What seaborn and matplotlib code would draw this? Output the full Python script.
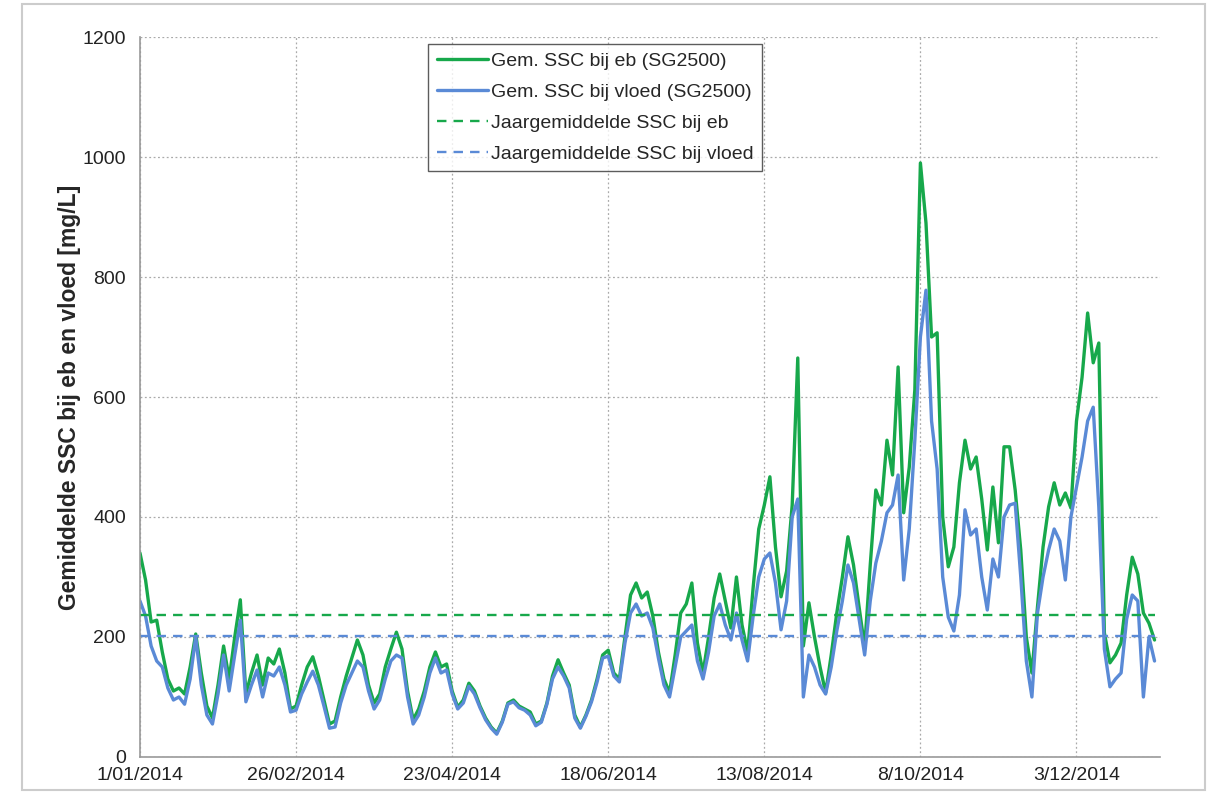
import pandas as pd
import numpy as np
import matplotlib.pyplot as plt
import seaborn as sns

# SSC values read every 2 days starting 1/01/2014
ssc_eb = [340, 295, 225, 228, 175, 130, 110, 115, 105, 150,
          205, 140, 85, 65, 120, 185, 130, 200, 262, 105,
          140, 170, 120, 165, 155, 180, 140, 80, 85, 120,
          150, 167, 135, 95, 55, 60, 100, 135, 165, 195,
          170, 120, 90, 105, 150, 180, 208, 180, 110, 62,
          80, 110, 150, 175, 150, 155, 110, 83, 95, 123,
          110, 85, 65, 50, 40, 60, 90, 95, 85, 80,
          75, 55, 60, 90, 135, 162, 140, 120, 70, 50,
          70, 95, 130, 170, 178, 140, 130, 200, 270, 290,
          265, 275, 235, 175, 130, 107, 170, 240, 255, 290,
          190, 140, 200, 265, 305, 260, 215, 300, 220, 175,
          283, 380, 420, 467, 350, 267, 310, 420, 665, 185,
          257, 200, 150, 107, 170, 240, 300, 367, 320, 250,
          183, 320, 445, 420, 528, 470, 650, 407, 483, 612,
          990, 890, 700, 707, 400, 317, 350, 457, 528, 480,
          500, 430, 345, 450, 357, 517, 517, 445, 345, 200,
          140, 250, 350, 417, 457, 420, 440, 415, 560, 633,
          740, 657, 690, 207, 157, 170, 190, 270, 333, 305,
          240, 223, 195]
ssc_vloed = [260, 235, 185, 160, 150, 115, 95, 100, 88, 130,
             200, 120, 70, 55, 105, 170, 110, 170, 228, 92,
             120, 145, 100, 140, 135, 150, 120, 75, 78, 105,
             125, 143, 120, 85, 48, 50, 90, 120, 140, 160,
             150, 110, 80, 95, 130, 160, 170, 165, 100, 55,
             70, 100, 140, 165, 140, 145, 105, 80, 90, 118,
             105, 82, 62, 48, 38, 58, 88, 92, 82, 78,
             70, 52, 58, 88, 130, 150, 135, 115, 65, 48,
             68, 92, 125, 165, 168, 135, 125, 190, 240, 255,
             235, 240, 215, 165, 120, 100, 150, 200, 210, 220,
             160, 130, 175, 235, 255, 220, 195, 240, 195, 160,
             235, 300, 330, 340, 290, 212, 260, 400, 430, 100,
             170, 150, 120, 105, 150, 210, 260, 320, 290, 230,
             170, 260, 323, 360, 407, 420, 470, 295, 380, 528,
             700, 778, 560, 480, 300, 233, 210, 270, 412, 370,
             380, 300, 245, 330, 300, 400, 420, 423, 300, 160,
             100, 240, 300, 345, 380, 360, 295, 400, 450, 500,
             560, 583, 417, 180, 117, 130, 140, 230, 270, 260,
             100, 200, 160]
mean_eb = 236
mean_vloed = 201

tick_dates = ['2014-01-01', '2014-02-26', '2014-04-23', '2014-06-18',
              '2014-08-13', '2014-10-08', '2014-12-03']
tick_labels = ['1/01/2014', '26/02/2014', '23/04/2014', '18/06/2014',
               '13/08/2014', '8/10/2014', '3/12/2014']

green = '#17a84b'
blue = '#5a8ad6'

df = pd.DataFrame({'datum': pd.date_range('2014-01-01', periods=len(ssc_eb), freq='2D'),
                   'eb': ssc_eb, 'vloed': ssc_vloed})
df['eb_gem'] = mean_eb
df['vloed_gem'] = mean_vloed

sns.set_style('white')
plt.rcParams['font.family'] = ['Liberation Sans', 'DejaVu Sans']

fig = plt.figure(figsize=(12.13, 7.94), dpi=100)
ax = fig.add_axes([0.1154, 0.0466, 0.841, 0.9068])

sns.lineplot(data=df, x='datum', y='eb', color=green, lw=2.4, ax=ax, label='Gem. SSC bij eb (SG2500)')
sns.lineplot(data=df, x='datum', y='vloed', color=blue, lw=2.4, ax=ax, label='Gem. SSC bij vloed (SG2500)')
sns.lineplot(data=df, x='datum', y='eb_gem', color=green, lw=1.7, ax=ax, linestyle=(0, (4, 3)),
             label='Jaargemiddelde SSC bij eb')
sns.lineplot(data=df, x='datum', y='vloed_gem', color=blue, lw=1.7, ax=ax, linestyle=(0, (4, 3)),
             label='Jaargemiddelde SSC bij vloed')

ax.set_xlim(pd.Timestamp('2014-01-01'), pd.Timestamp('2015-01-02'))
ax.set_ylim(0, 1200)
ax.set_yticks(range(0, 1201, 200))
ax.set_xticks(pd.to_datetime(tick_dates))
ax.set_xticklabels(tick_labels)
ax.tick_params(axis='both', labelsize=14, colors='#222222')
ax.tick_params(axis='y', direction='out', length=5, color='#888888', pad=5)
ax.tick_params(axis='x', direction='inout', length=8, color='#888888', pad=3)
ax.grid(True, linestyle=(0, (1.5, 2)), color='#aaaaaa', linewidth=0.9)
ax.set_axisbelow(True)
for s in ['top', 'right']:
    ax.spines[s].set_visible(False)
for s in ['left', 'bottom']:
    ax.spines[s].set_color('#999999')
    ax.spines[s].set_linewidth(1.2)

ax.set_xlabel('')
ax.set_ylabel('Gemiddelde SSC bij eb en vloed [mg/L]', fontsize=16.5, fontweight='bold', labelpad=1)

leg = ax.legend(loc='upper left', bbox_to_anchor=(0.279, 0.996), fontsize=14, frameon=True,
                fancybox=False, edgecolor='#333333', handlelength=2.6, handletextpad=0.15,
                borderpad=0.45, labelspacing=0.68, borderaxespad=0.2)
leg.get_frame().set_linewidth(1.0)

fig.patches.append(plt.Rectangle((0.018, 0.005), 0.975, 0.99, transform=fig.transFigure,
                                 fill=False, edgecolor='#cccccc', linewidth=1.5))

fig.savefig('out.png', dpi=100)
